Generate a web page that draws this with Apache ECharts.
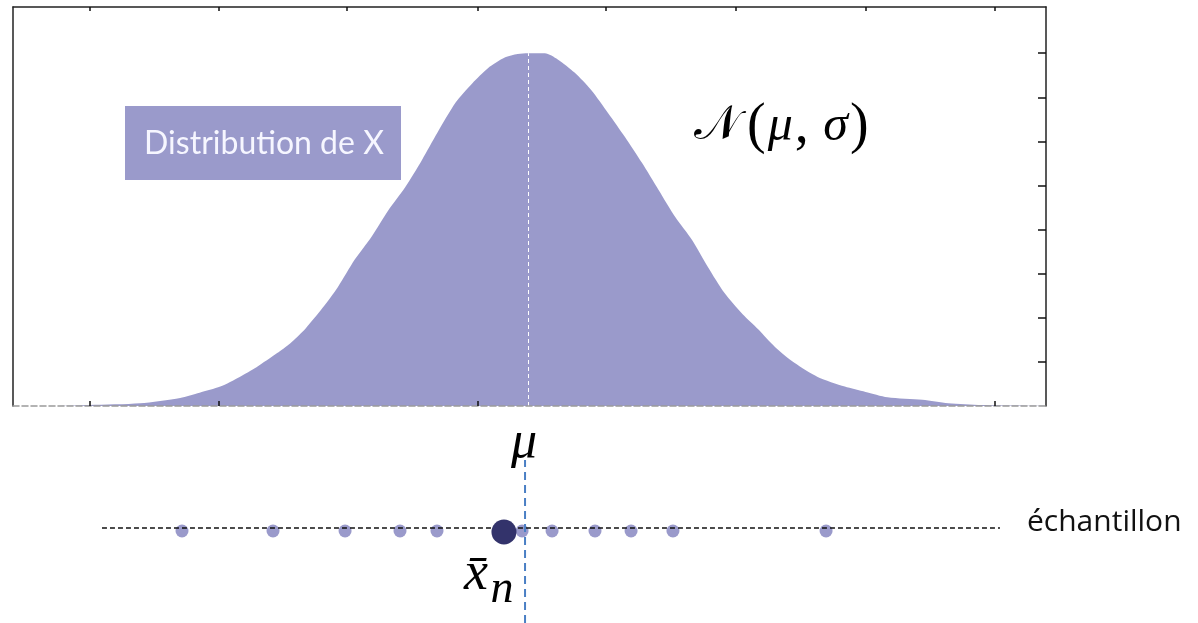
<!DOCTYPE html>
<html>
<head>
<meta charset="utf-8">
<script src="https://cdn.jsdelivr.net/npm/echarts@6/dist/echarts.min.js"></script>
<style>html,body{margin:0;padding:0;background:#fff}#c{width:1198px;height:623px}</style>
</head>
<body>
<div id="c"></div>
<script>
// ---- data (x in units of tick spacing, mu at 0; y = density) ----
var curveX = [-3.983,-3.62,-3.39,-3.00,-2.69,-2.54,-2.38,-2.23,-2.10,-1.94,-1.84,-1.72,-1.59,-1.47,-1.34,-1.21,-1.08,-0.95,-0.82,-0.70,-0.56,-0.43,-0.31,-0.18,-0.08,0.00,0.13,0.23,0.36,0.49,0.62,0.75,0.88,1.01,1.14,1.27,1.39,1.52,1.66,1.78,1.91,2.06,2.24,2.45,2.61,2.78,3.05,3.25,3.51,4.006];
var curveY = [0,0,0.001,0.003,0.009,0.015,0.022,0.033,0.044,0.060,0.071,0.088,0.111,0.135,0.166,0.192,0.222,0.248,0.279,0.310,0.344,0.366,0.383,0.395,0.399,0.400,0.400,0.393,0.378,0.358,0.332,0.305,0.276,0.245,0.214,0.188,0.158,0.128,0.104,0.087,0.067,0.049,0.033,0.022,0.016,0.010,0.007,0.003,0.001,0];
var muX = 0;
var peakY = 0.400;
var topTicks = [-3.39,-2.39,-1.40,-0.39,0.60,1.61,2.61,3.61];
var bottomTicks = [-3.39,-2.39,-0.39,3.61];
var rightTicks = [0.05,0.10,0.15,0.20,0.25,0.30,0.35,0.40];
var sampleX = [-2.676,-1.972,-1.415,-0.990,-0.704,-0.046,0.186,0.518,0.797,1.121,2.305];
var sampleMean = -0.186;
var sampleLineX = [-3.295, 3.650];
var muLineX = -0.023;

var xMin = -3.983, xMax = 4.006, yMax = 0.4524;
var y2Min = -95, y2Max = 68;

var fillColor = '#9a9acb';
var chart = echarts.init(document.getElementById('c'));

var curve = curveX.map(function(x,i){return [x, curveY[i]];});

var option = {
  animation: false,
  grid: [
    {left: 13, right: 152, top: 7, bottom: 217},
    {left: 13, right: 152, top: 460, bottom: 0}
  ],
  xAxis: [
    {gridIndex:0, type:'value', min:xMin, max:xMax, position:'bottom', z:5,
     axisLine:{show:true, onZero:false, lineStyle:{color:'#9a9a9a', type:'dashed', width:1.5}},
     axisTick:{show:true, inside:true, length:5, customValues: bottomTicks, lineStyle:{color:'#111', width:1.5}},
     axisLabel:{show:false}, splitLine:{show:false}},
    {gridIndex:0, type:'value', min:xMin, max:xMax, position:'top', z:5,
     axisLine:{show:true, onZero:false, lineStyle:{color:'#222', width:1.5}},
     axisTick:{show:true, inside:true, length:4, customValues: topTicks, lineStyle:{color:'#111', width:1.5}},
     axisLabel:{show:false}, splitLine:{show:false}},
    {gridIndex:1, type:'value', min:xMin, max:xMax, show:false}
  ],
  yAxis: [
    {gridIndex:0, type:'value', min:0, max:yMax, position:'left', z:5,
     axisLine:{show:true, onZero:false, lineStyle:{color:'#222', width:1.5}},
     axisTick:{show:false}, axisLabel:{show:false}, splitLine:{show:false}},
    {gridIndex:0, type:'value', min:0, max:yMax, position:'right', z:5,
     axisLine:{show:true, onZero:false, lineStyle:{color:'#222', width:1.5}},
     axisTick:{show:true, inside:true, length:8, customValues: rightTicks, lineStyle:{color:'#111', width:1.5}},
     axisLabel:{show:false}, splitLine:{show:false}},
    {gridIndex:1, type:'value', min:y2Min, max:y2Max, show:false}
  ],
  series: [
    {type:'line', xAxisIndex:0, yAxisIndex:0, data: curve, smooth:0.25, showSymbol:false, silent:true,
     lineStyle:{width:0}, areaStyle:{color: fillColor, opacity:1},
     markLine:{silent:true, symbol:'none', label:{show:false},
       lineStyle:{color:'#ffffff', type:[4,3], width:1},
       data:[[{coord:[muX,0]},{coord:[muX,peakY]}]]}},
    {type:'line', xAxisIndex:2, yAxisIndex:2, data: sampleLineX.map(function(x){return [x,0];}),
     showSymbol:false, silent:true, lineStyle:{color:'#111', width:1.5, type:[5,3]}},
    {type:'line', xAxisIndex:2, yAxisIndex:2, data: [[muLineX,y2Min],[muLineX,y2Max]],
     showSymbol:false, silent:true, lineStyle:{color:'#4a7fc4', width:2, type:[8,5]}},
    {type:'scatter', xAxisIndex:2, yAxisIndex:2, data: sampleX.map(function(x){return [x,-3];}),
     symbolSize:13, silent:true, itemStyle:{color: fillColor, opacity:1}},
    {type:'scatter', xAxisIndex:2, yAxisIndex:2, data: [[sampleMean,-4]],
     symbolSize:25, silent:true, itemStyle:{color:'#33336b', opacity:1}, z:4}
  ],
  graphic: [
    {type:'rect', z:10, shape:{x:125, y:106, width:276, height:74}, style:{fill: fillColor}},
    {type:'text', z:11, x:264, y:144, style:{text:'Distribution de X', fill:'#f6f6ff',
      font:'32px Lato', align:'center', verticalAlign:'middle'}},
    {type:'text', z:11, x:694, y:155, style:{
      text:'{n|\uD835\uDCA9}{p|(}{g|\u03BC}{p|,}{g| \u03C3}{p|)}',
      verticalAlign:'bottom',
      rich:{
        n:{font:'48px "DejaVu Serif"', fill:'#000', padding:[0,5,0,0]},
        p:{font:'56px "Liberation Serif"', fill:'#000', padding:[0,2,0,2]},
        g:{font:'italic 50px "Liberation Serif"', fill:'#000'}
      }}},
    {type:'text', z:11, x:524, y:443, style:{text:'\u03BC', font:'italic 52px "Liberation Serif"', fill:'#000', align:'center', verticalAlign:'middle'}},
    {type:'text', z:11, x:476, y:575, style:{text:'x\u0304', font:'italic 54px "Liberation Serif"', fill:'#000', align:'center', verticalAlign:'middle'}},
    {type:'text', z:11, x:502, y:590, style:{text:'n', font:'italic 46px "Liberation Serif"', fill:'#000', align:'center', verticalAlign:'middle'}},
    {type:'text', z:11, x:1027, y:522, style:{text:'\u00E9chantillon', font:'30px "Open Sans"', fill:'#111', align:'left', verticalAlign:'middle'}}
  ]
};
chart.setOption(option);
</script>
</body>
</html>
